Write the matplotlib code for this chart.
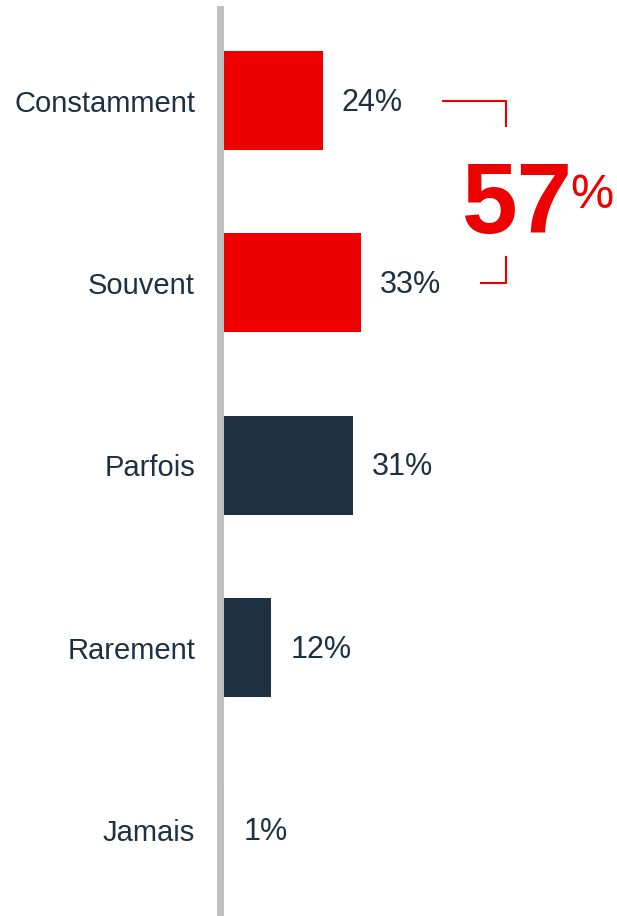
import matplotlib.pyplot as plt

# Data
categories = ['Constamment', 'Souvent', 'Parfois', 'Rarement', 'Jamais']
values = [24, 33, 31, 12, 1]
highlight = [True, True, False, False, False]

RED = '#ee0000'
NAVY = '#1d3142'
GREY = '#c0c0c0'

plt.rcParams['font.family'] = ['Liberation Sans', 'DejaVu Sans']

fig = plt.figure(figsize=(6.17, 9.16), dpi=100)
ax = fig.add_axes([220 / 617, 0, 397 / 617, 1])

px_per_unit = 4.28
ax.set_xlim(0, 397 / px_per_unit)
ax.set_ylim(4.471, -0.551)

colors = [RED if h else NAVY for h in highlight]
ypos = list(range(len(categories)))
ax.barh(ypos, values, height=0.543, color=colors, linewidth=0, zorder=2)

# value labels, 20 px after bar end
for y, v in zip(ypos, values):
    ax.annotate(f'{v}%', xy=(v, y), xytext=(19, -2), textcoords='offset pixels',
                ha='left', va='center', fontsize=22, color=NAVY)

# axis
for s in ['top', 'right', 'bottom']:
    ax.spines[s].set_visible(False)
ax.spines['left'].set_color(GREY)
ax.spines['left'].set_linewidth(5.0)
ax.spines['left'].set_bounds(-0.502, 4.471)
ax.spines['left'].set_zorder(3)
ax.set_xticks([])
ax.set_yticks(ypos, labels=categories)
ax.tick_params(axis='y', length=0, pad=18, labelsize=21, labelcolor=NAVY)

# bracket grouping the top two answers
bx = 66.8
ax.plot([values[0] + 28, bx, bx], [0, 0, 0.14], color=RED, lw=1.5, clip_on=False)
ax.plot([values[1] + 28, bx, bx], [1, 1, 0.858], color=RED, lw=1.5, clip_on=False)

total = values[0] + values[1]
ax.text(69.6, 0.726, str(total), ha='center', va='baseline', fontsize=72,
        fontweight='bold', color=RED)
ax.text(81.8, 0.589, '%', ha='left', va='baseline', fontsize=35, color=RED)

fig.savefig('out.png', dpi=100)
